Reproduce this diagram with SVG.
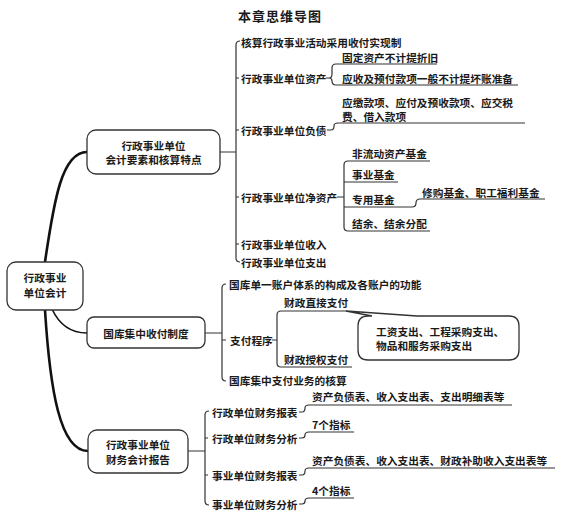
<svg xmlns="http://www.w3.org/2000/svg" width="571" height="517" viewBox="0 0 571 517">
<style>
text{font-family:"Noto Sans CJK SC","Noto Sans CJK JP",sans-serif;font-size:10.7px;font-weight:bold;fill:#1a1a1a;dominant-baseline:central}
.title{font-size:13px;letter-spacing:1px}
.mid{text-anchor:middle}
.box{fill:#fff;stroke:#333;stroke-width:1.3}
.ln{fill:none;stroke:#333;stroke-width:1.2}
.thick{fill:none;stroke:#111;stroke-width:2.6;stroke-linecap:round}
.thin{fill:none;stroke:#111;stroke-width:1.6}
</style>
<rect width="571" height="517" fill="#fff"/>
<text class="title" x="238" y="15">本章思维导图</text>
<g id="connectors">
<path class="thick" d="M45 262 C54 200 62 152 87 152"/>
<path class="thin" d="M52 309 C58 322 68 333 87 333"/>
<path class="thick" d="M45 310 C50 390 60 451 88 451"/>
<path class="ln" d="M220 152 L236 152 M240 41 Q236 41 236 45 L236 258 Q236 262 240 262 M236 78 L239 78 M236 130 L239 130 M236 197 L239 197 M236 244 L239 244"/>
<path class="ln" d="M326 78 L331 78 M336 64 Q332 64 332 68 L332 74 Q332 78 329 78 Q332 78 332 81 Q332 85 336 85 M336 64 L437 64 M336 85 L518 85"/>
<path class="ln" d="M327 130 L331 130 Q334 130 334 126 Q334 123 338 123 L525 123"/>
<path class="ln" d="M337 197 L344 197 M348 161 Q344 161 344 165 L344 227 Q344 231 348 231 M348 161 L430 161 M344 182 L398 182 M344 207 L412 207 Q416 207 416 203 Q416 199 420 199 L545 199 M348 231 L430 231"/>
<path class="ln" d="M205 333 L222 333 M226 284 Q222 284 222 288 L222 377 Q222 381 226 381 M222 340 L226 340"/>
<path class="ln" d="M272 340 L277 340 M281 311 Q277 311 277 315 L277 363 Q277 367 281 367 M281 311 L347 311 M281 367 L352 367"/>
<path class="ln" d="M188 451 L205 451 M209 411 Q205 411 205 415 L205 501 Q205 505 209 505 M205 438 L208 438 M205 475 L208 475"/>
<path class="ln" d="M299 412 L302 412 Q305 412 305 408 Q305 405 309 405 L512 405"/>
<path class="ln" d="M299 438 L302 438 Q305 438 305 435 Q305 432 309 432 L354 432"/>
<path class="ln" d="M299 475 L302 475 Q305 475 305 471 Q305 468 309 468 L555 468"/>
<path class="ln" d="M299 504 L302 504 Q305 504 305 501 Q305 498 309 498 L354 498"/>
</g>
<g id="root">
<rect class="box" x="7" y="262" width="76" height="48" rx="9"/>
<text class="mid" x="45" y="277">行政事业</text>
<text class="mid" x="45" y="292">单位会计</text>
</g>
<g id="node1">
<rect class="box" x="87" y="130" width="133" height="44" rx="9"/>
<text class="mid" x="153.5" y="145">行政事业单位</text>
<text class="mid" x="153.5" y="159">会计要素和核算特点</text>
</g>
<g id="node1-items">
<text x="241" y="42">核算行政事业活动采用收付实现制</text>
<text x="241" y="78">行政事业单位资产</text>
<text x="342" y="57">固定资产不计提折旧</text>
<text x="342" y="78">应收及预付款项一般不计提坏账准备</text>
<text x="241" y="130">行政事业单位负债</text>
<text x="342" y="102">应缴款项、应付及预收款项、应交税</text>
<text x="342" y="116">费、借入款项</text>
<text x="241" y="197">行政事业单位净资产</text>
<text x="352" y="153">非流动资产基金</text>
<text x="352" y="174">事业基金</text>
<text x="352" y="199">专用基金</text>
<text x="422" y="192">修购基金、职工福利基金</text>
<text x="352" y="223">结余、结余分配</text>
<text x="241" y="244">行政事业单位收入</text>
<text x="241" y="262">行政事业单位支出</text>
</g>
<g id="node2">
<rect class="box" x="87" y="317" width="118" height="31" rx="7"/>
<text class="mid" x="146" y="333">国库集中收付制度</text>
</g>
<g id="node2-items">
<text x="229" y="284">国库单一账户体系的构成及各账户的功能</text>
<text x="230" y="340">支付程序</text>
<text x="284" y="302">财政直接支付</text>
<text x="284" y="359">财政授权支付</text>
<text x="229" y="380">国库集中支付业务的核算</text>
</g>
<g id="callout">
<path class="box" d="M368 316 L372 316 L346 311 L417 316 L509 316 Q519 316 519 326 L519 350 Q519 360 509 360 L368 360 Q358 360 358 350 L358 326 Q358 316 368 316 Z"/>
<text x="376" y="331">工资支出、工程采购支出、</text>
<text x="376" y="345">物品和服务采购支出</text>
</g>
<g id="node3">
<rect class="box" x="88" y="430" width="100" height="43" rx="9"/>
<text class="mid" x="138" y="444">行政事业单位</text>
<text class="mid" x="138" y="459">财务会计报告</text>
</g>
<g id="node3-items">
<text x="212" y="412">行政单位财务报表</text>
<text x="312" y="396">资产负债表、收入支出表、支出明细表等</text>
<text x="212" y="438">行政单位财务分析</text>
<text x="312" y="424">7个指标</text>
<text x="212" y="475">事业单位财务报表</text>
<text x="312" y="460">资产负债表、收入支出表、财政补助收入支出表等</text>
<text x="212" y="504">事业单位财务分析</text>
<text x="312" y="490">4个指标</text>
</g>
</svg>
